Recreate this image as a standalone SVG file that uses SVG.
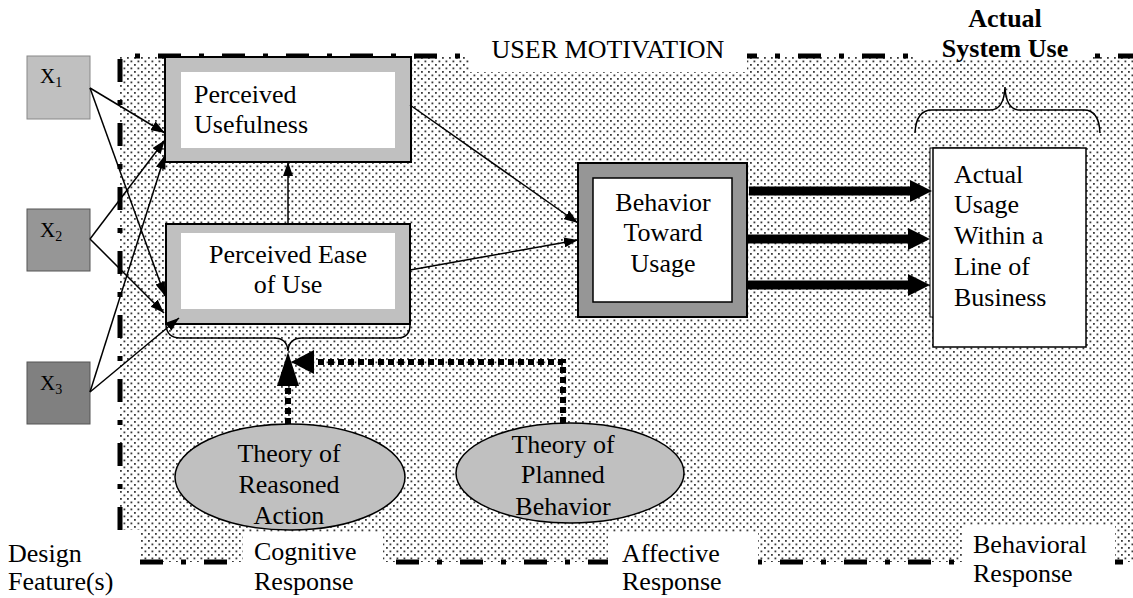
<svg xmlns="http://www.w3.org/2000/svg" width="1133" height="598" viewBox="0 0 1133 598">
  <style>
    .t { font-family: "Liberation Serif", "Times New Roman", serif; font-size: 26px; fill: #000; }
    .b { font-weight: bold; }
    .mid { text-anchor: middle; }
    .ln { stroke: #000; stroke-width: 1.5; fill: none; }
    .thick { stroke: #000; stroke-width: 9; fill: none; }
    .dots { stroke: #000; stroke-width: 6; stroke-dasharray: 6 4; fill: none; }
    .label { fill: #fff; stroke: none; }
  </style>
  <defs>
    <pattern id="stipple" width="7" height="7" patternUnits="userSpaceOnUse">
      <rect width="7" height="7" fill="#fff"/>
      <rect x="1" y="1" width="1.8" height="1.8" fill="#3a3a3a"/>
      <rect x="4.5" y="4.5" width="1.8" height="1.8" fill="#3a3a3a"/>
    </pattern>
    <marker id="ah" viewBox="0 0 14 10" refX="14" refY="5" markerWidth="14" markerHeight="10" markerUnits="userSpaceOnUse" orient="auto">
      <path d="M0,0 L14,5 L0,10 Z" fill="#000"/>
    </marker>
  </defs>

  <!-- shaded motivation region with dash-dot frame -->
  <g id="region">
    <rect x="120" y="56" width="1020" height="506" fill="url(#stipple)"/>
    <path d="M120,530 V56 H1140" fill="none" stroke="#000" stroke-width="5" stroke-dasharray="23 18 5 18"/>
    <path d="M140,562 H1140" fill="none" stroke="#000" stroke-width="5" stroke-dasharray="23 18 5 18"/>
  </g>

  <!-- white label panels over the frame -->
  <g id="labels">
    <rect class="label" x="470" y="30" width="277" height="42"/>
    <rect class="label" x="915" y="0" width="178" height="60"/>
    <rect class="label" x="0" y="530" width="140" height="68"/>
    <rect class="label" x="243" y="532" width="140" height="66"/>
    <rect class="label" x="608" y="532" width="150" height="66"/>
    <rect class="label" x="962" y="525" width="153" height="73"/>
    <text class="t mid" x="608" y="58">USER MOTIVATION</text>
    <text class="t b mid" x="1005" y="27">Actual</text>
    <text class="t b mid" x="1005" y="57">System Use</text>
    <text class="t" x="8" y="562">Design</text>
    <text class="t" x="8" y="590">Feature(s)</text>
    <text class="t" x="254" y="560">Cognitive</text>
    <text class="t" x="254" y="590">Response</text>
    <text class="t" x="622" y="562">Affective</text>
    <text class="t" x="622" y="590">Response</text>
    <text class="t" x="973" y="553">Behavioral</text>
    <text class="t" x="973" y="582">Response</text>
  </g>

  <!-- design feature inputs -->
  <g id="x1">
    <rect x="27" y="56" width="63" height="63" fill="#c0c0c0" stroke="#888" stroke-width="1"/>
    <text class="t" x="40" y="83" style="font-size:21px">X<tspan style="font-size:14px" dy="4">1</tspan></text>
  </g>
  <g id="x2">
    <rect x="27" y="209" width="63" height="62" fill="#969696" stroke="#555" stroke-width="1"/>
    <text class="t" x="40" y="237" style="font-size:21px">X<tspan style="font-size:14px" dy="4">2</tspan></text>
  </g>
  <g id="x3">
    <rect x="27" y="362" width="63" height="62" fill="#808080" stroke="#555" stroke-width="1"/>
    <text class="t" x="40" y="390" style="font-size:21px">X<tspan style="font-size:14px" dy="4">3</tspan></text>
  </g>

  <g id="perceived-usefulness">
    <rect x="165" y="57" width="246" height="105" fill="#c0c0c0" stroke="#000" stroke-width="2"/>
    <rect x="181" y="72" width="214" height="76" fill="#fff"/>
    <text class="t" x="194" y="103">Perceived</text>
    <text class="t" x="194" y="133">Usefulness</text>
  </g>

  <g id="perceived-ease">
    <rect x="166" y="224" width="244" height="100" fill="#c0c0c0" stroke="#000" stroke-width="2"/>
    <rect x="181" y="233" width="214" height="76" fill="#fff"/>
    <text class="t mid" x="288" y="263">Perceived Ease</text>
    <text class="t mid" x="288" y="293">of Use</text>
  </g>

  <g id="behavior-toward-usage">
    <rect x="578" y="163" width="169" height="154" fill="#969696" stroke="#000" stroke-width="2"/>
    <rect x="593" y="178" width="139" height="124" fill="#fff" stroke="#000" stroke-width="1.5"/>
    <text class="t mid" x="663" y="211">Behavior</text>
    <text class="t mid" x="663" y="241">Toward</text>
    <text class="t mid" x="663" y="272">Usage</text>
  </g>

  <g id="actual-usage">
    <rect x="930" y="148" width="150" height="169" fill="#fff" stroke="#000" stroke-width="1"/>
    <rect x="933" y="148" width="153" height="199" fill="#fff" stroke="#000" stroke-width="1.5"/>
    <text class="t" x="954" y="183">Actual</text>
    <text class="t" x="954" y="213">Usage</text>
    <text class="t" x="954" y="244">Within a</text>
    <text class="t" x="954" y="275">Line of</text>
    <text class="t" x="954" y="306">Business</text>
  </g>

  <g id="theory-reasoned-action">
    <ellipse cx="290" cy="477" rx="115" ry="53" fill="#c0c0c0" stroke="#000" stroke-width="1.5"/>
    <text class="t mid" x="289" y="462">Theory of</text>
    <text class="t mid" x="289" y="493">Reasoned</text>
    <text class="t mid" x="289" y="524">Action</text>
  </g>

  <g id="theory-planned-behavior">
    <ellipse cx="570" cy="473" rx="114" ry="50" fill="#c0c0c0" stroke="#000" stroke-width="1.5"/>
    <text class="t mid" x="563" y="453">Theory of</text>
    <text class="t mid" x="563" y="483">Planned</text>
    <text class="t mid" x="563" y="515">Behavior</text>
  </g>

  <g id="connectors">
    <!-- inputs to perception constructs -->
    <line class="ln" x1="90" y1="88" x2="165" y2="133" marker-end="url(#ah)"/>
    <line class="ln" x1="90" y1="88" x2="165" y2="296" marker-end="url(#ah)"/>
    <line class="ln" x1="90" y1="239" x2="165" y2="140" marker-end="url(#ah)"/>
    <line class="ln" x1="90" y1="239" x2="164" y2="313" marker-end="url(#ah)"/>
    <line class="ln" x1="90" y1="392" x2="165" y2="155" marker-end="url(#ah)"/>
    <line class="ln" x1="90" y1="392" x2="179" y2="318" marker-end="url(#ah)"/>
    <!-- ease of use feeds usefulness -->
    <line class="ln" x1="288" y1="224" x2="288" y2="162" marker-end="url(#ah)"/>
    <!-- perceptions to behavior -->
    <line class="ln" x1="410" y1="105" x2="578" y2="223" marker-end="url(#ah)"/>
    <line class="ln" x1="410" y1="270" x2="578" y2="240" marker-end="url(#ah)"/>
    <!-- behavior to actual usage -->
    <line class="thick" x1="749" y1="191" x2="911" y2="191"/>
    <path d="M910,180 L932,191 L910,202 Z"/>
    <line class="thick" x1="747" y1="239" x2="909" y2="239"/>
    <path d="M908,228 L930,239 L908,250 Z"/>
    <line class="thick" x1="747" y1="285" x2="909" y2="285"/>
    <path d="M908,274 L930,285 L908,296 Z"/>
    <!-- brace grouping the perception constructs -->
    <path class="ln" d="M166,325 Q167,338 180,338 H274 Q287,338 288,351 Q289,338 302,338 H397 Q410,338 410,325"/>
    <!-- brace over actual system use -->
    <path class="ln" d="M915,133 Q916,110 932,110 H990 Q1004,110 1005,87 Q1006,110 1020,110 H1084 Q1099,110 1100,133"/>
    <!-- theory influences -->
    <line class="dots" x1="288" y1="424" x2="288" y2="384"/>
    <path d="M277,386 L288,352 L299,386 Z"/>
    <path class="dots" d="M563,423 V362 H312"/>
    <path d="M314,350 L291,362 L314,374 Z"/>
  </g>
</svg>
